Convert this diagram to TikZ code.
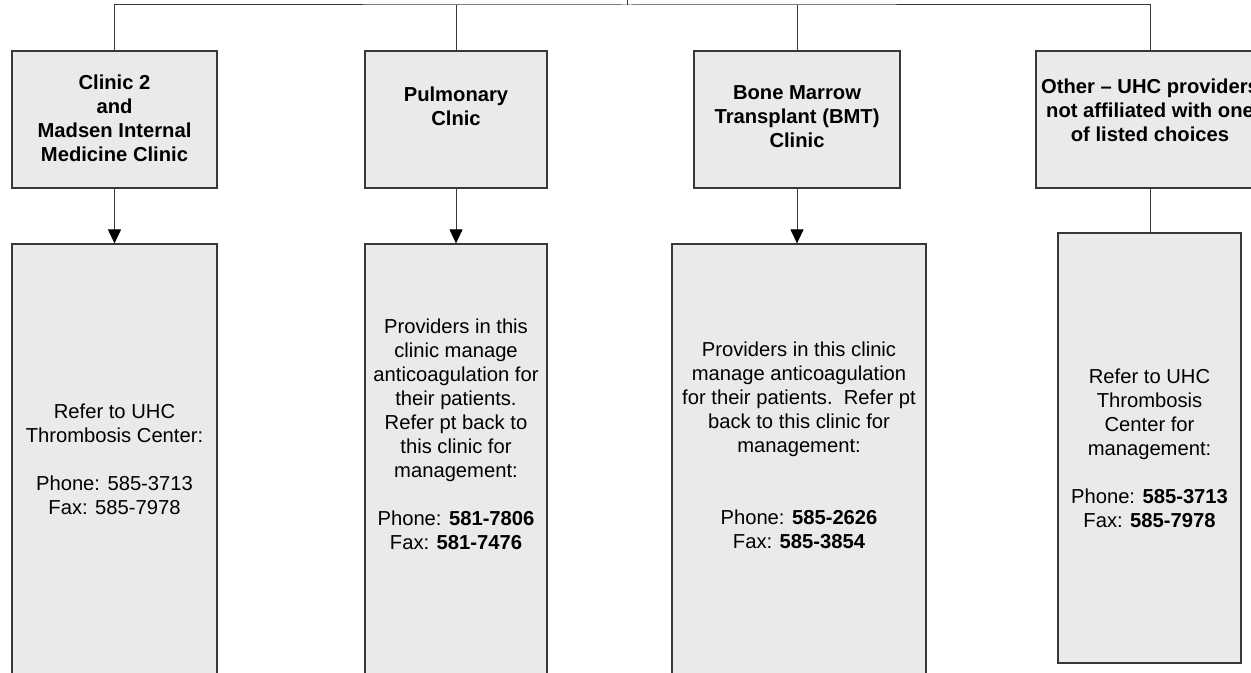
\documentclass[tikz,border=0pt]{standalone}
\usepackage{fontspec}
\setmainfont{Liberation Sans}
\usetikzlibrary{arrows.meta}
\usetikzlibrary{calc}

\definecolor{boxFill}{HTML}{EAEAEA}
\definecolor{boxLine}{HTML}{383838}

\begin{document}
\begin{tikzpicture}[
    x=0.5pt, y=-0.5pt,
    % --- Styles ---
    box/.style  = {draw=boxLine, fill=boxFill, line width=0.6pt, inner sep=0pt}, % gray box
    head/.style = {font=\fontsize{10.1}{12}\selectfont\bfseries, align=center, inner sep=0pt}, % clinic name
    body/.style = {font=\fontsize{10.1}{12}\selectfont, align=center, inner sep=0pt},  % referral text
    link/.style = {draw=boxLine, line width=0.5pt},                                    % plain connector
    arr/.style  = {link, -{Triangle[width=6.5pt,length=7pt,color=black]}}              % connector with head
    ]

    % --- Frame of the picture ---
    \path[use as bounding box, clip] (0,0) rectangle (1251,673);

    % --- Clinic boxes (top row) ---
    \node[box, minimum width=102.5pt, minimum height=68.5pt] (c1) at (114.5,119.5) {};
    \node[box, minimum width=91pt,    minimum height=68.5pt] (c2) at (456,119.5) {};
    \node[box, minimum width=103pt,   minimum height=68.5pt] (c3) at (797,119.5) {};
    \node[box, minimum width=114pt,   minimum height=68.5pt] (c4) at (1150,119.5) {};

    % --- Referral boxes (bottom row) ---
    \node[box, minimum width=102.5pt, minimum height=228pt] (r1) at (114.5,472) {};
    \node[box, minimum width=91pt,    minimum height=228pt] (r2) at (456,472) {};
    \node[box, minimum width=127pt,   minimum height=228pt] (r3) at (799,472) {};
    \node[box, minimum width=91.5pt,  minimum height=215pt] (r4) at (1149.5,448) {};

    % --- Clinic names ---
    \node[head] (h1) at (114.5,118) {Clinic 2\\and\\Madsen Internal\\Medicine Clinic};
    \node[head] (h2) at (456,106.5) {Pulmonary\\Clnic};
    \node[head] (h3) at (797,117) {Bone Marrow\\Transplant (BMT)\\Clinic};
    \node[head] (h4) at (1150,110) {Other -- UHC providers\\not affiliated with one\\of listed choices};

    % --- Referral texts ---
    \node[body] (b1) at (114.5,459) {Refer to UHC\\Thrombosis Center:\\[12pt]Phone: 585-3713\\Fax: 585-7978};
    \node[body] (b2) at (456,434) {Providers in this\\clinic manage\\anticoagulation for\\their patients.\\Refer pt back to\\this clinic for\\management:\\[12pt]Phone: \textbf{581-7806}\\Fax: \textbf{581-7476}};
    \node[body] (b3) at (799,445) {Providers in this clinic\\manage anticoagulation\\for their patients.\ \ Refer pt\\back to this clinic for\\management:\\[24pt]Phone: \textbf{585-2626}\\Fax: \textbf{585-3854}};
    \node[body] (b4) at (1149.5,448) {Refer to UHC\\Thrombosis\\Center for\\management:\\[12pt]Phone: \textbf{585-3713}\\Fax: \textbf{585-7978}};

    % --- Bus line on top ---
    \coordinate (root) at (627,-10);
    \coordinate (bus) at (627,5);
    \draw[link] (root) -- (bus);
    \draw[link] (c1.north) |- (bus) -| (c4.north);
    \foreach \n in {c2,c3} {
        \draw[link] (\n.north) -- (\n.north |- bus);
    }

    % --- Down to the referral boxes ---
    \foreach \i in {1,2,3} {
        \draw[arr] (c\i.south) -- (c\i.south |- r\i.north);
    }
    \draw[link] (c4.south) -- (c4.south |- r4.north); % no head here
\end{tikzpicture}
\end{document}
